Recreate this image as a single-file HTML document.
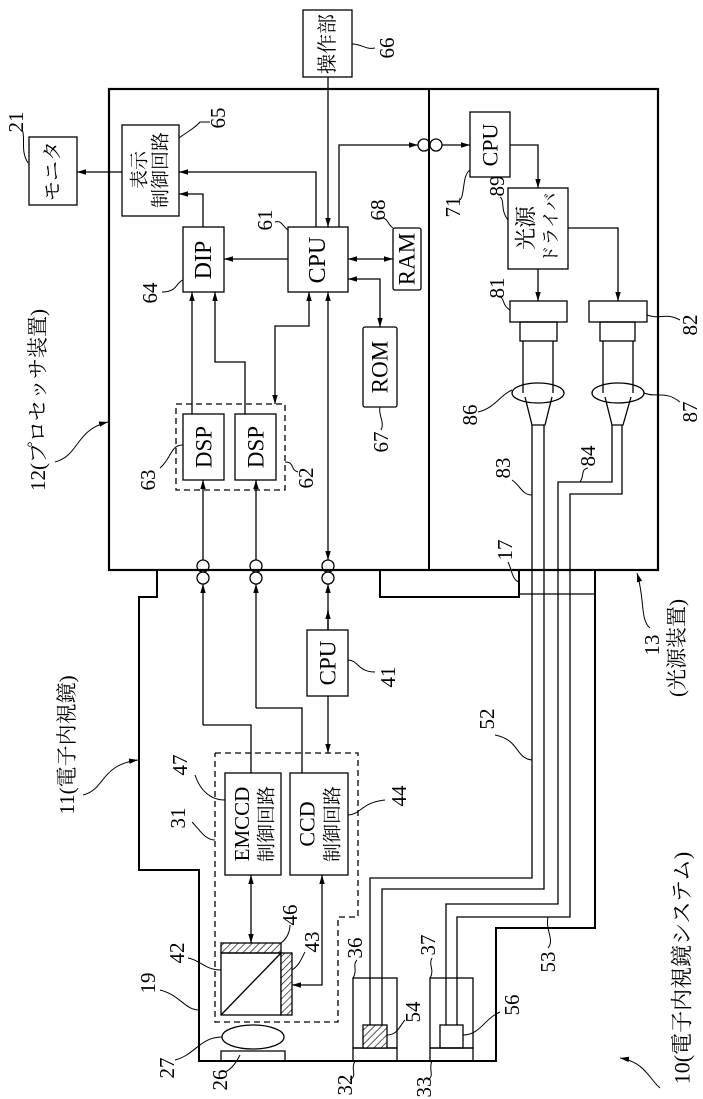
<!DOCTYPE html>
<html><head><meta charset="utf-8"><style>
html,body{margin:0;padding:0;background:#fff;}
svg{display:block;}
text{font-family:"Liberation Serif","Noto Serif CJK SC","Noto Sans CJK JP",serif;fill:#000;}
</style></head><body>
<svg width="703" height="1099" viewBox="0 0 703 1099" xmlns="http://www.w3.org/2000/svg">
<defs>
<marker id="e" viewBox="0 0 10 10" refX="10" refY="5" markerWidth="9" markerHeight="9" markerUnits="userSpaceOnUse" orient="auto"><path d="M0,2 L10,5 L0,8 z" fill="#000"/></marker>
<marker id="s" viewBox="0 0 10 10" refX="0" refY="5" markerWidth="9" markerHeight="9" markerUnits="userSpaceOnUse" orient="auto"><path d="M10,2 L0,5 L10,8 z" fill="#000"/></marker>
<pattern id="h" width="5" height="5" patternUnits="userSpaceOnUse" patternTransform="rotate(45)"><rect width="5" height="5" fill="#fff"/><line x1="0" y1="0" x2="0" y2="5" stroke="#000" stroke-width="1.3"/></pattern>
</defs>
<g fill="none" stroke="#000" stroke-width="1.3">
<rect x="109" y="89" width="549" height="481" stroke-width="2.2"/>
<line x1="429" y1="89" x2="429" y2="570" stroke-width="2"/>
<rect x="303" y="10" width="49" height="67"/>
<line x1="328" y1="77" x2="328" y2="227" marker-end="url(#e)"/>
<rect x="29" y="137" width="48" height="68"/>
<rect x="122" y="125" width="57" height="91"/>
<line x1="122" y1="172" x2="77" y2="172" marker-end="url(#e)"/>
<polyline points="316,227 316,172 179,172" marker-end="url(#e)"/>
<polyline points="203,227 203,194 179,194" marker-end="url(#e)"/>
<rect x="183" y="227" width="41" height="65"/>
<rect x="288" y="227" width="60" height="65"/>
<line x1="288" y1="259" x2="224" y2="259" marker-end="url(#e)"/>
<rect x="393" y="228" width="28" height="62" rx="2"/>
<line x1="348" y1="259" x2="393" y2="259" marker-start="url(#s)" marker-end="url(#e)"/>
<polyline points="348,279 380,279 380,327" marker-start="url(#s)" marker-end="url(#e)"/>
<rect x="363" y="327" width="34" height="80" rx="2"/>
<polyline points="339,227 339,145 418,145" marker-end="url(#e)"/>
<circle cx="424" cy="145" r="6"/><circle cx="436" cy="145" r="6"/>
<line x1="442" y1="145" x2="470" y2="145" marker-end="url(#e)"/>
<rect x="470" y="112" width="40" height="65"/>
<polyline points="510,145 538,145 538,188" marker-end="url(#e)"/>
<rect x="508" y="188" width="60" height="81"/>
<line x1="538" y1="269" x2="538" y2="301" marker-end="url(#e)"/>
<polyline points="568,228 618,228 618,301" marker-end="url(#e)"/>
<rect x="510" y="301" width="57" height="21"/><rect x="520" y="322" width="37" height="19"/>
<line x1="523" y1="341" x2="523" y2="393"/><line x1="553" y1="341" x2="553" y2="393"/>
<ellipse cx="538" cy="393" rx="26" ry="10"/>
<polyline points="525,397 532,425 545,425 552,397"/>
<rect x="589" y="301" width="58" height="21"/><rect x="600" y="322" width="35" height="19"/>
<line x1="603" y1="341" x2="603" y2="393"/><line x1="633" y1="341" x2="633" y2="393"/>
<ellipse cx="618" cy="393" rx="26" ry="10"/>
<polyline points="605,397 612,425 623,425 631,397"/>
<polyline points="532,425 532,878 370,878 370,1025"/>
<polyline points="544,425 544,889 382,889 382,1025"/>
<polyline points="612,425 612,482 558,482 558,904 446,904 446,1025"/>
<polyline points="622,425 622,494 570,494 570,917 457,917 457,1025"/>
<rect x="176" y="404" width="109" height="86" stroke-dasharray="6,4"/>
<rect x="183" y="414" width="41" height="66"/><rect x="235" y="414" width="41" height="66"/>
<line x1="192" y1="414" x2="192" y2="292" marker-end="url(#e)"/>
<polyline points="245,414 245,362 215,362 215,292" marker-end="url(#e)"/>
<polyline points="309,292 309,326 275,326 275,404" marker-start="url(#s)" marker-end="url(#e)"/>
<line x1="328" y1="292" x2="328" y2="560" marker-start="url(#s)" marker-end="url(#e)"/>
<line x1="203" y1="560" x2="203" y2="480" marker-end="url(#e)"/>
<line x1="256" y1="560" x2="256" y2="480" marker-end="url(#e)"/>
<circle cx="203" cy="566" r="6"/><circle cx="203" cy="578" r="6"/>
<circle cx="256" cy="566" r="6"/><circle cx="256" cy="578" r="6"/>
<circle cx="328" cy="566" r="6"/><circle cx="328" cy="578" r="6"/>
<polyline points="157,571 157,597 139,597 139,870 199,870 199,1061 496,1061 496,928 595,928 595,571" stroke-width="2"/>
<polyline points="380,571 380,597 519,597 519,571" stroke-width="2"/>
<line x1="519" y1="594" x2="595" y2="594"/>
<polyline points="203,725 203,584" marker-end="url(#e)"/>
<polyline points="251,773 251,725 203,725"/>
<polyline points="256,708 256,584" marker-end="url(#e)"/>
<polyline points="302,773 302,708 256,708"/>
<line x1="328" y1="630" x2="328" y2="584" marker-end="url(#e)"/>
<line x1="328" y1="610" x2="328" y2="630" marker-start="url(#s)"/>
<rect x="307" y="630" width="41" height="66"/>
<line x1="328" y1="696" x2="328" y2="753" marker-end="url(#e)"/>
<polyline points="215,753 358,753 358,917 338,917 338,1022 215,1022 215,753" stroke-dasharray="6,4"/>
<rect x="225" y="773" width="56" height="102"/><rect x="290" y="773" width="58" height="102"/>
<line x1="251" y1="875" x2="251" y2="943" marker-start="url(#s)" marker-end="url(#e)"/>
<polyline points="322,875 322,985 292,985" marker-start="url(#s)" marker-end="url(#e)"/>
<rect x="221" y="943" width="60" height="10" fill="url(#h)"/>
<rect x="221" y="953" width="60" height="62"/>
<rect x="281" y="953" width="11" height="62" fill="url(#h)"/>
<line x1="221" y1="1015" x2="281" y2="953"/>
<ellipse cx="253" cy="1037" rx="31" ry="12"/>
<path d="M221,1061 L221,1051 L285,1051 L285,1061"/>
<rect x="353" y="978" width="44" height="70"/><rect x="353" y="1048" width="44" height="13"/>
<rect x="363" y="1025" width="24" height="23" fill="url(#h)"/>
<rect x="430" y="978" width="43" height="70"/><rect x="430" y="1048" width="43" height="13"/>
<rect x="440" y="1025" width="23" height="23"/>
<g stroke-width="1">
<path d="M28,163 C20,150 26,140 22,128"/>
<path d="M179,138 C190,130 195,128 200,122 L210,122"/>
<path d="M352,44 C362,44 366,50 375,48"/>
<path d="M393,228 C387,224 388,218 382,218"/>
<path d="M288,230 C282,226 282,220 275,222"/>
<path d="M183,280 C176,282 178,292 162,292"/>
<path d="M470,170 C462,175 465,195 460,200"/>
<path d="M508,220 C500,210 505,200 500,197"/>
<path d="M510,310 C502,305 505,300 500,296"/>
<path d="M647,315 C660,320 665,312 680,320"/>
<path d="M512,390 C500,395 495,408 478,412"/>
<path d="M644,393 C655,398 665,390 680,402"/>
<path d="M532,495 C522,495 520,485 512,480"/>
<path d="M580,482 C585,475 580,470 588,468"/>
<path d="M519,582 C512,580 512,570 508,562"/>
<path d="M380,407 C378,415 385,422 381,430"/>
<path d="M285,462 C295,462 290,470 298,472"/>
<path d="M183,445 C170,445 172,458 160,468"/>
<path d="M348,660 C358,660 358,672 375,672"/>
<path d="M225,800 C210,800 200,790 195,775"/>
<path d="M215,840 C205,840 200,830 192,822"/>
<path d="M348,815 C360,815 362,802 385,800"/>
<path d="M281,943 C288,938 290,930 290,925"/>
<path d="M292,970 C300,965 303,955 305,952"/>
<path d="M221,970 C205,970 200,960 188,958"/>
<path d="M199,1010 C185,1010 180,995 160,990"/>
<path d="M222,1037 C200,1037 195,1055 175,1060"/>
<path d="M240,1055 C235,1065 230,1070 225,1072"/>
<path d="M353,978 C358,970 352,965 357,960"/>
<path d="M430,978 C435,970 428,965 432,958"/>
<path d="M355,1061 C350,1070 358,1075 350,1080"/>
<path d="M432,1061 C428,1070 435,1075 428,1080"/>
<path d="M387,1035 C398,1035 400,1025 405,1020"/>
<path d="M463,1035 C480,1035 485,1018 500,1012"/>
<path d="M548,917 C545,930 555,940 548,948"/>
<path d="M532,760 C515,758 520,740 495,735"/>
<path d="M55,462 C80,455 75,430 108,422" marker-end="url(#e)"/>
<path d="M83,795 C105,790 100,765 138,760" marker-end="url(#e)"/>
<path d="M650,628 C640,620 645,600 637,573" marker-end="url(#e)"/>
<path d="M660,1088 C650,1080 645,1062 620,1058" marker-end="url(#e)"/>
</g>
</g>
<g font-size="21">
<g text-anchor="middle" dominant-baseline="central">
<text transform="translate(328,44) rotate(-90)" font-size="20">操作部</text>
<text transform="translate(53,171) rotate(-90)" font-size="20">モニタ</text>
<text transform="translate(140,170) rotate(-90)" font-size="19">表示</text>
<text transform="translate(161,170) rotate(-90)" font-size="19">制御回路</text>
<text transform="translate(204,260) rotate(-90)" font-size="24">DIP</text>
<text transform="translate(318,260) rotate(-90)" font-size="24">CPU</text>
<text transform="translate(407,259) rotate(-90)" font-size="23">RAM</text>
<text transform="translate(380,367) rotate(-90)" font-size="23">ROM</text>
<text transform="translate(490,145) rotate(-90)" font-size="22">CPU</text>
<text transform="translate(526,228) rotate(-90)" font-size="22">光源</text>
<text transform="translate(551,228) rotate(-90)" font-size="18">ドライバ</text>
<text transform="translate(204,447) rotate(-90)" font-size="23">DSP</text>
<text transform="translate(256,447) rotate(-90)" font-size="23">DSP</text>
<text transform="translate(328,663) rotate(-90)" font-size="23">CPU</text>
<text transform="translate(242,824) rotate(-90)" font-size="21">EMCCD</text>
<text transform="translate(267,824) rotate(-90)" font-size="19">制御回路</text>
<text transform="translate(307,824) rotate(-90)" font-size="22">CCD</text>
<text transform="translate(333,824) rotate(-90)" font-size="19">制御回路</text>
<text transform="translate(16,122) rotate(-90)">21</text>
<text transform="translate(218,118) rotate(-90)">65</text>
<text transform="translate(387,48) rotate(-90)">66</text>
<text transform="translate(378,210) rotate(-90)">68</text>
<text transform="translate(265,220) rotate(-90)">61</text>
<text transform="translate(150,293) rotate(-90)">64</text>
<text transform="translate(453,207) rotate(-90)">71</text>
<text transform="translate(497,186) rotate(-90)">89</text>
<text transform="translate(497,288) rotate(-90)">81</text>
<text transform="translate(690,325) rotate(-90)">82</text>
<text transform="translate(470,415) rotate(-90)">86</text>
<text transform="translate(690,412) rotate(-90)">87</text>
<text transform="translate(503,468) rotate(-90)">83</text>
<text transform="translate(588,456) rotate(-90)">84</text>
<text transform="translate(505,550) rotate(-90)">17</text>
<text transform="translate(381,442) rotate(-90)">67</text>
<text transform="translate(306,478) rotate(-90)">62</text>
<text transform="translate(148,480) rotate(-90)">63</text>
<text transform="translate(38,400) rotate(-90)">12(プロセッサ装置)</text>
<text transform="translate(67,745) rotate(-90)">11(電子内視鏡)</text>
<text transform="translate(652,645) rotate(-90)">13</text>
<text transform="translate(677,648) rotate(-90)">(光源装置)</text>
<text transform="translate(682,968) rotate(-90)" font-size="22">10(電子内視鏡システム)</text>
<text transform="translate(487,719) rotate(-90)">52</text>
<text transform="translate(548,962) rotate(-90)">53</text>
<text transform="translate(388,677) rotate(-90)">41</text>
<text transform="translate(180,765) rotate(-90)">47</text>
<text transform="translate(178,818) rotate(-90)">31</text>
<text transform="translate(399,796) rotate(-90)">44</text>
<text transform="translate(290,915) rotate(-90)">46</text>
<text transform="translate(312,942) rotate(-90)">43</text>
<text transform="translate(177,953) rotate(-90)">42</text>
<text transform="translate(148,983) rotate(-90)">19</text>
<text transform="translate(355,948) rotate(-90)">36</text>
<text transform="translate(428,945) rotate(-90)">37</text>
<text transform="translate(167,1068) rotate(-90)">27</text>
<text transform="translate(220,1080) rotate(-90)">26</text>
<text transform="translate(345,1085) rotate(-90)">32</text>
<text transform="translate(424,1087) rotate(-90)">33</text>
<text transform="translate(413,1012) rotate(-90)">54</text>
<text transform="translate(512,1005) rotate(-90)">56</text>
</g>
</g>
</svg>
</body></html>
